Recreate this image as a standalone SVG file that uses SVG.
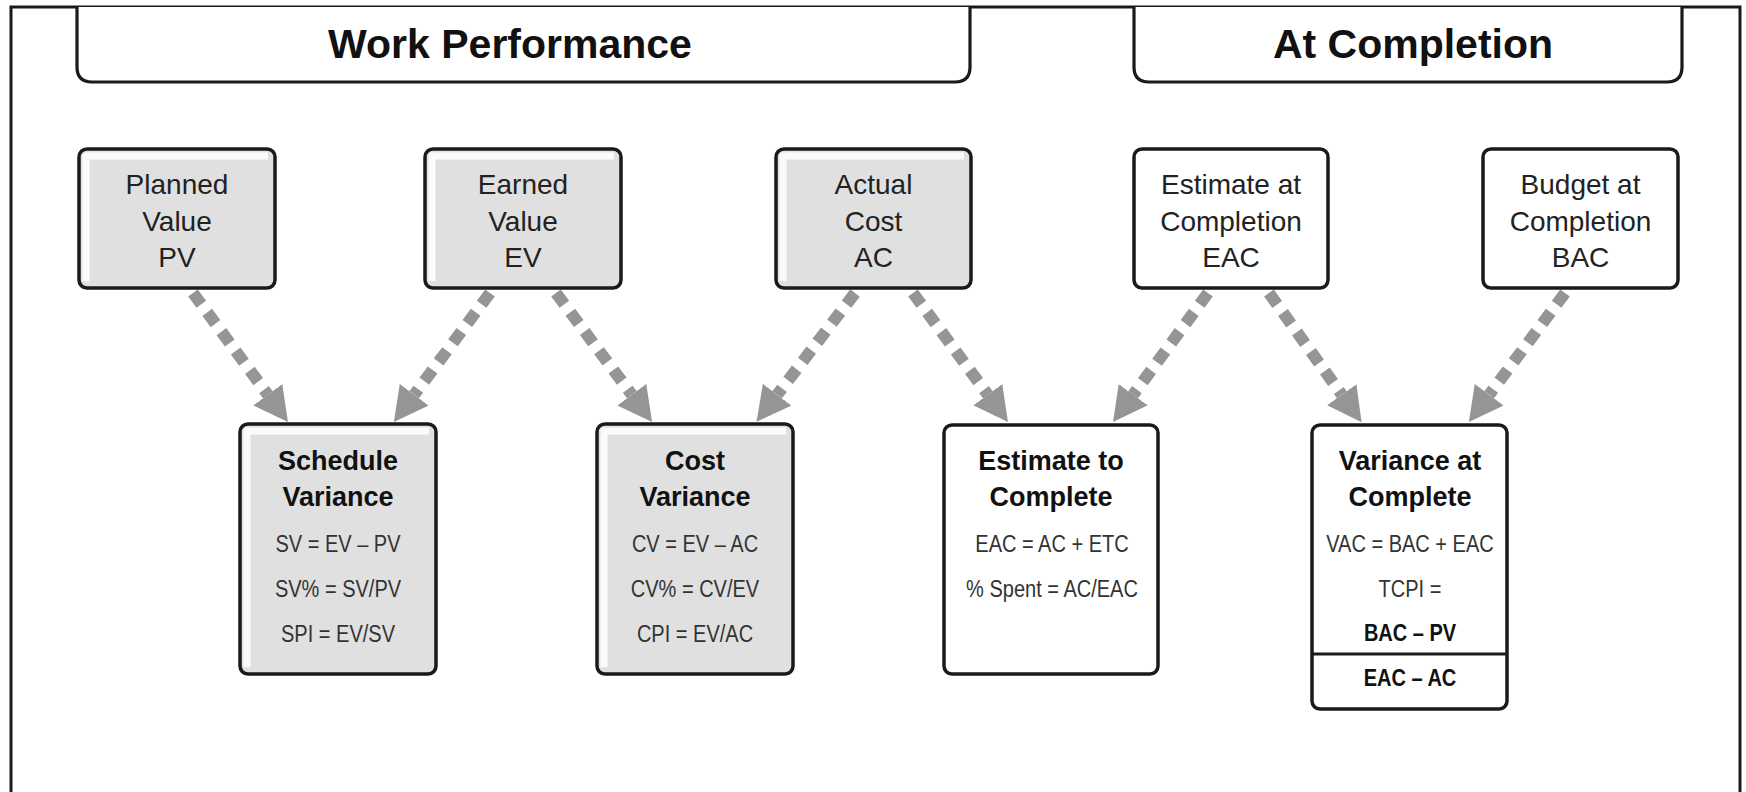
<svg xmlns="http://www.w3.org/2000/svg" width="1746" height="792" viewBox="0 0 1746 792">
<style>
.frame{fill:none;stroke:#1a1a1a;stroke-width:3}
.tab{fill:#fff;stroke:#1a1a1a;stroke-width:3.2}
.hdr{font-family:"Liberation Sans",Arial,sans-serif;font-weight:bold;font-size:41px;fill:#111;text-anchor:middle}
.box{stroke:#1a1a1a;stroke-width:3.5}
.gray{fill:#e0e0e0}
.white{fill:#fff}
.hl{fill:none;stroke:#fbfbfb;stroke-width:7;stroke-linejoin:round}
.t{font-family:"Liberation Sans",Arial,sans-serif;font-size:28px;fill:#222;text-anchor:middle}
.b{font-family:"Liberation Sans",Arial,sans-serif;font-size:27px;font-weight:bold;fill:#111;text-anchor:middle}
.f{font-family:"Liberation Sans",Arial,sans-serif;font-size:23px;fill:#333;text-anchor:middle}
.fb{font-family:"Liberation Sans",Arial,sans-serif;font-size:23px;font-weight:bold;fill:#111;text-anchor:middle}
.arr{stroke:#959595;stroke-width:12;stroke-dasharray:14 10;fill:none;marker-end:url(#ah)}
</style>
<defs>
<marker id="ah" markerUnits="userSpaceOnUse" markerWidth="36" markerHeight="38" refX="0" refY="18" orient="auto">
<path d="M0,0 L34,18 L0,36 Z" fill="#959595"/>
</marker>
</defs>
<rect width="1746" height="792" fill="#fff"/>
<path class="frame" d="M11,792 L11,7 L1740,7 L1740,792"/>
<g id="hdr-work">
<path class="tab" d="M77,7 L77,67 Q77,82 92,82 L955,82 Q970,82 970,67 L970,7"/>
<text class="hdr" x="510" y="58">Work Performance</text>
</g>
<g id="hdr-completion">
<path class="tab" d="M1134,7 L1134,67 Q1134,82 1149,82 L1667,82 Q1682,82 1682,67 L1682,7"/>
<text class="hdr" x="1413" y="58">At Completion</text>
</g>
<g id="connectors">
<line class="arr" x1="193" y1="293" x2="267.8" y2="394.7"/>
<line class="arr" x1="490" y1="293" x2="414.2" y2="394.7"/>
<line class="arr" x1="556" y1="293" x2="631.8" y2="394.7"/>
<line class="arr" x1="855" y1="293" x2="777.2" y2="394.7"/>
<line class="arr" x1="913" y1="293" x2="987.8" y2="394.7"/>
<line class="arr" x1="1208" y1="293" x2="1133.2" y2="394.7"/>
<line class="arr" x1="1269" y1="293" x2="1341.8" y2="394.7"/>
<line class="arr" x1="1565" y1="293" x2="1489.2" y2="394.7"/>
</g>
<g id="pv">
<rect class="box gray" x="79" y="149" width="196" height="139" rx="8"/>
<path class="hl" d="M86,281 L86,156 L268,156"/>
<text class="t" x="177" y="194">Planned</text>
<text class="t" x="177" y="231">Value</text>
<text class="t" x="177" y="267">PV</text>
</g>
<g id="ev">
<rect class="box gray" x="425" y="149" width="196" height="139" rx="8"/>
<path class="hl" d="M432,281 L432,156 L614,156"/>
<text class="t" x="523" y="194">Earned</text>
<text class="t" x="523" y="231">Value</text>
<text class="t" x="523" y="267">EV</text>
</g>
<g id="ac">
<rect class="box gray" x="776" y="149" width="195" height="139" rx="8"/>
<path class="hl" d="M783,281 L783,156 L964,156"/>
<text class="t" x="873.5" y="194">Actual</text>
<text class="t" x="873.5" y="231">Cost</text>
<text class="t" x="873.5" y="267">AC</text>
</g>
<g id="eac">
<rect class="box white" x="1134" y="149" width="194" height="139" rx="8"/>
<text class="t" x="1231" y="194">Estimate at</text>
<text class="t" x="1231" y="231">Completion</text>
<text class="t" x="1231" y="267">EAC</text>
</g>
<g id="bac">
<rect class="box white" x="1483" y="149" width="195" height="139" rx="8"/>
<text class="t" x="1580.5" y="194">Budget at</text>
<text class="t" x="1580.5" y="231">Completion</text>
<text class="t" x="1580.5" y="267">BAC</text>
</g>
<g id="sv">
<rect class="box gray" x="240" y="424" width="196" height="250" rx="8"/>
<path class="hl" d="M247,667 L247,431 L429,431"/>
<text class="b" x="338" y="470">Schedule</text>
<text class="b" x="338" y="506">Variance</text>
<text class="f" transform="translate(338,552) scale(0.87,1)">SV = EV – PV</text>
<text class="f" transform="translate(338,597) scale(0.87,1)">SV% = SV/PV</text>
<text class="f" transform="translate(338,642) scale(0.87,1)">SPI = EV/SV</text>
</g>
<g id="cv">
<rect class="box gray" x="597" y="424" width="196" height="250" rx="8"/>
<path class="hl" d="M604,667 L604,431 L786,431"/>
<text class="b" x="695" y="470">Cost</text>
<text class="b" x="695" y="506">Variance</text>
<text class="f" transform="translate(695,552) scale(0.87,1)">CV = EV – AC</text>
<text class="f" transform="translate(695,597) scale(0.87,1)">CV% = CV/EV</text>
<text class="f" transform="translate(695,642) scale(0.87,1)">CPI = EV/AC</text>
</g>
<g id="etc">
<rect class="box white" x="944" y="425" width="214" height="249" rx="8"/>
<text class="b" x="1051" y="470">Estimate to</text>
<text class="b" x="1051" y="506">Complete</text>
<text class="f" transform="translate(1052,552) scale(0.87,1)">EAC = AC + ETC</text>
<text class="f" transform="translate(1052,597) scale(0.87,1)">% Spent = AC/EAC</text>
</g>
<g id="vac">
<rect class="box white" x="1312" y="425" width="195" height="284" rx="8"/>
<line x1="1312" y1="654" x2="1507" y2="654" stroke="#1a1a1a" stroke-width="3"/>
<text class="b" x="1410" y="470">Variance at</text>
<text class="b" x="1410" y="506">Complete</text>
<text class="f" transform="translate(1410,552) scale(0.87,1)">VAC = BAC + EAC</text>
<text class="f" transform="translate(1410,597) scale(0.87,1)">TCPI =</text>
<text class="fb" transform="translate(1410,641) scale(0.87,1)">BAC – PV</text>
<text class="fb" transform="translate(1410,686) scale(0.87,1)">EAC – AC</text>
</g>
</svg>
